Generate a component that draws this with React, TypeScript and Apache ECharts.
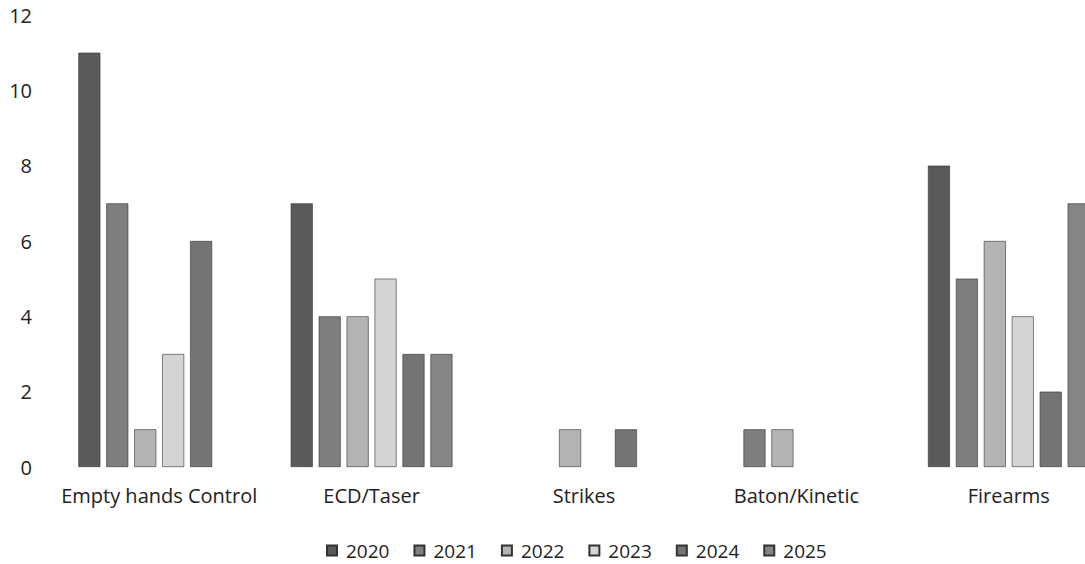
import React, { useEffect, useRef } from "react";
import * as echarts from "echarts";

const categories = ["Empty hands Control", "ECD/Taser", "Strikes", "Baton/Kinetic", "Firearms"];
const years = ["2020", "2021", "2022", "2023", "2024", "2025"];
const v2020 = [11, 7, 0, 0, 8];
const v2021 = [7, 4, 0, 1, 5];
const v2022 = [1, 4, 1, 1, 6];
const v2023 = [3, 5, 0, 0, 4];
const v2024 = [6, 3, 1, 0, 2];
const v2025 = [0, 3, 0, 0, 7];
const seriesValues = [v2020, v2021, v2022, v2023, v2024, v2025];
const colors = ["#5a5a5a", "#7e7e7e", "#b4b4b4", "#d4d4d4", "#747474", "#858585"];
const yTicks = [0, 12, 2];

export default function App() {
  const ref = useRef<HTMLDivElement>(null);
  useEffect(() => {
    if (!ref.current) return;
    const chart = echarts.init(ref.current, null, { renderer: "svg" });
    const font = "'Open Sans', 'Noto Sans', sans-serif";
    chart.setOption({
      animation: false,
      textStyle: { fontFamily: font },
      grid: { left: 53, width: 1062, top: 15, bottom: 97, containLabel: false },
      legend: {
        top: 536,
        left: 321,
        itemWidth: 10,
        itemHeight: 10,
        itemGap: 24,
        icon: "rect",
        textStyle: { fontSize: 19, color: "#222", fontFamily: font, padding: [0, 0, 0, 4] },
        data: years,
      },
      xAxis: {
        type: "category",
        data: categories,
        axisLine: { show: false },
        axisTick: { show: false },
        axisLabel: { fontSize: 20, color: "#222", margin: 18, interval: 0, fontFamily: font },
      },
      yAxis: {
        type: "value",
        min: yTicks[0],
        max: yTicks[1],
        interval: yTicks[2],
        splitLine: { show: false },
        axisLine: { show: false },
        axisTick: { show: false },
        axisLabel: { fontSize: 20, color: "#222", margin: 21, fontFamily: font },
      },
      series: years.map((y, i) => ({
        name: y,
        type: "bar",
        data: seriesValues[i].map((v) => (v === 0 ? null : v)),
        barWidth: 22,
        barGap: "27%",
        itemStyle: { color: colors[i], borderColor: "#333", borderWidth: 0.6 },
      })),
    });
    return () => chart.dispose();
  }, []);
  return (
    <div
      style={{ position: "fixed", left: 0, top: 0, width: 1085, height: 564, overflow: "hidden", background: "#fff" }}
    >
      <div ref={ref} style={{ width: 1150, height: 564 }} />
    </div>
  );
}
